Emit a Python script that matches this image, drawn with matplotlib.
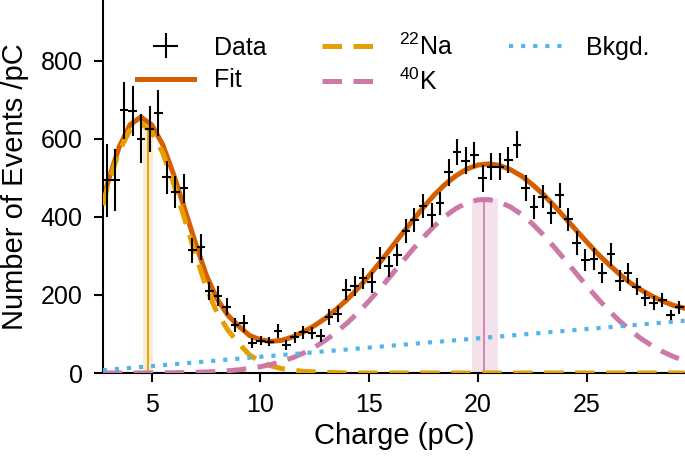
import numpy as np
import matplotlib
matplotlib.use("Agg")
import matplotlib.pyplot as plt

plt.rcParams.update({
    "font.family": "Liberation Sans",
    "mathtext.fontset": "custom",
    "mathtext.rm": "Liberation Sans",
    "mathtext.it": "Liberation Sans:italic",
    "mathtext.bf": "Liberation Sans:bold",
})

C = {"fit": "#D55E00", "na": "#E69F00", "k": "#CC79A7", "bkg": "#56B4E9"}

# measured spectrum (bin centres in pC, events per pC, error)
charge = [2.94, 3.33, 3.73, 4.12, 4.51, 4.90, 5.30, 5.69, 6.08, 6.48,
          6.87, 7.26, 7.65, 8.05, 8.44, 8.83, 9.22, 9.62, 10.01, 10.40,
          10.80, 11.19, 11.58, 11.97, 12.37, 12.76, 13.15, 13.55, 13.94, 14.33,
          14.72, 15.12, 15.51, 15.90, 16.30, 16.69, 17.08, 17.47, 17.87, 18.26,
          18.65, 19.04, 19.44, 19.83, 20.22, 20.62, 21.01, 21.40, 21.79, 22.19,
          22.58, 22.97, 23.37, 23.76, 24.15, 24.54, 24.94, 25.33, 25.72, 26.12,
          26.51, 26.90, 27.29, 27.69, 28.08, 28.47, 28.86, 29.26]
events = [494, 494, 673, 672, 600, 625, 666, 502, 463, 473,
          314, 322, 211, 197, 170, 123, 127, 76, 83, 80,
          107, 72, 92, 104, 102, 96, 144, 152, 214, 223,
          243, 232, 294, 273, 303, 364, 392, 428, 405, 435,
          514, 567, 544, 559, 499, 529, 529, 546, 585, 474,
          425, 452, 411, 456, 394, 333, 290, 292, 257, 304,
          237, 257, 221, 192, 180, 187, 149, 168]
events_err = [93, 80, 74, 64, 63, 59, 59, 42, 41, 38,
              32, 33, 23, 26, 21, 19, 21, 13, 12, 12,
              18, 13, 14, 16, 16, 16, 21, 21, 26, 26,
              27, 27, 28, 28, 28, 30, 30, 30, 30, 30,
              34, 34, 34, 33, 34, 35, 35, 34, 34, 34,
              30, 30, 30, 32, 30, 30, 28, 28, 26, 29,
              26, 26, 22, 19, 18, 18, 13, 16]
bin_half = 0.2

# fitted model
curve_x = [2.75, 3.0, 3.5, 4.0, 4.5, 5.0, 5.5, 6.0, 6.5, 7.0,
           7.5, 8.0, 8.5, 9.0, 9.5, 10.0, 10.5, 11.0, 11.5, 12.0,
           12.5, 13.0, 13.5, 14.0, 14.5, 15.0, 15.5, 16.0, 16.5, 17.0,
           17.5, 18.0, 18.5, 19.0, 19.5, 20.0, 20.5, 21.0, 21.5, 22.0,
           22.5, 23.0, 23.5, 24.0, 24.5, 25.0, 25.5, 26.0, 26.5, 27.0,
           27.5, 28.0, 28.5, 29.0, 29.5]
fit_y = [437, 493, 579, 636, 656, 636, 586, 510, 423, 335,
         252, 190, 148, 120, 96, 85, 81, 84, 93, 106,
         122, 141, 164, 189, 218, 250, 284, 320, 356, 391,
         425, 457, 484, 506, 523, 533, 536, 532, 521, 505,
         483, 458, 429, 398, 367, 336, 306, 279, 254, 231,
         213, 197, 184, 173, 166]
na_y = [430, 485, 568, 623, 640, 618, 565, 487, 397, 306,
        220, 155, 110, 76, 46, 29, 18, 11, 7, 4,
        3, 2, 1, 0, 0, 0, 0, 0, 0, 0,
        0, 0, 0, 0, 0, 0, 0, 0, 0, 0,
        0, 0, 0, 0, 0, 0, 0, 0, 0, 0,
        0, 0, 0, 0, 0]
k_y = [0, 0, 0, 0.1, 0.2, 0.3, 0.5, 0.7, 1.2, 1.8,
       2.7, 3.9, 5.7, 8.2, 11.6, 16.2, 22.1, 29.8, 39.6, 51.7,
       66.5, 84.2, 104.9, 128.8, 155.5, 185.0, 216.6, 249.7, 283.5, 316.7,
       348.3, 377.2, 402.2, 422.1, 436.2, 443.8, 444.4, 438.2, 425.4, 406.6,
       382.5, 354.4, 323.1, 290.1, 256.5, 223.2, 191.2, 161.2, 133.9, 109.4,
       88.1, 69.8, 54.4, 41.8, 31.6]
bkg_x = [2.75, 29.5]
bkg_y = [7.1, 133.9]

# peak positions with their uncertainty bands
na_peak, na_lo, na_hi, na_top = 4.84, 4.62, 5.06, 630
k_peak, k_lo, k_hi, k_top = 20.28, 19.71, 20.94, 445

fig = plt.figure(figsize=(6.85, 4.57), dpi=100)
ax = fig.add_axes([0.1504, 0.1838, 0.8496, 0.8162])

ax.fill_between([na_lo, na_hi], 0, na_top, color=C["na"], alpha=0.18, lw=0, zorder=1)
ax.vlines(na_peak, 0, na_top, color=C["na"], lw=1.3, zorder=1.5)
ax.fill_between([k_lo, k_hi], 0, k_top, color=C["k"], alpha=0.22, lw=0, zorder=1)
ax.vlines(k_peak, 0, k_top, color=C["k"], lw=1.2, zorder=1.5)

h_fit, = ax.plot(curve_x, fit_y, color=C["fit"], lw=3.6, zorder=2)
h_na, = ax.plot(curve_x, na_y, color=C["na"], lw=3.6, ls=(0, (3.9, 2.3)), zorder=3)
h_k, = ax.plot(curve_x, k_y, color=C["k"], lw=3.6, ls=(0, (3.9, 2.3)), zorder=3)
h_bkg, = ax.plot(bkg_x, bkg_y, color=C["bkg"], lw=3.0, ls=(0, (1, 1.9)), zorder=3)
h_data = ax.errorbar(charge, events, yerr=events_err, xerr=bin_half, fmt="none",
                     ecolor="black", elinewidth=1.5, capsize=0, zorder=4)

ax.legend([h_data, h_fit, h_na, h_k, h_bkg],
          ["Data", "Fit", "$^{22}$Na", "$^{40}$K", "Bkgd."],
          ncol=3, loc="upper left", bbox_to_anchor=(0.058, 0.911),
          frameon=False, fontsize=18, handlelength=2.3, handletextpad=0.8,
          columnspacing=2.2, borderpad=0, borderaxespad=0, labelspacing=0.35)

ax.set_xlim(2.76, 29.52)
ax.set_ylim(0, 956)
ax.set_xticks([5, 10, 15, 20, 25])
ax.set_yticks([0, 200, 400, 600, 800])
for s in ("top", "right"):
    ax.spines[s].set_visible(False)
for s in ("left", "bottom"):
    ax.spines[s].set_linewidth(1.5)
ax.tick_params(labelsize=18, length=6.7, width=1.5, pad=8)
ax.set_xlabel("Charge (pC)", fontsize=21, labelpad=3)
ax.set_ylabel("Number of Events /pC", fontsize=21, labelpad=8)

fig.savefig("out.png", dpi=100)
